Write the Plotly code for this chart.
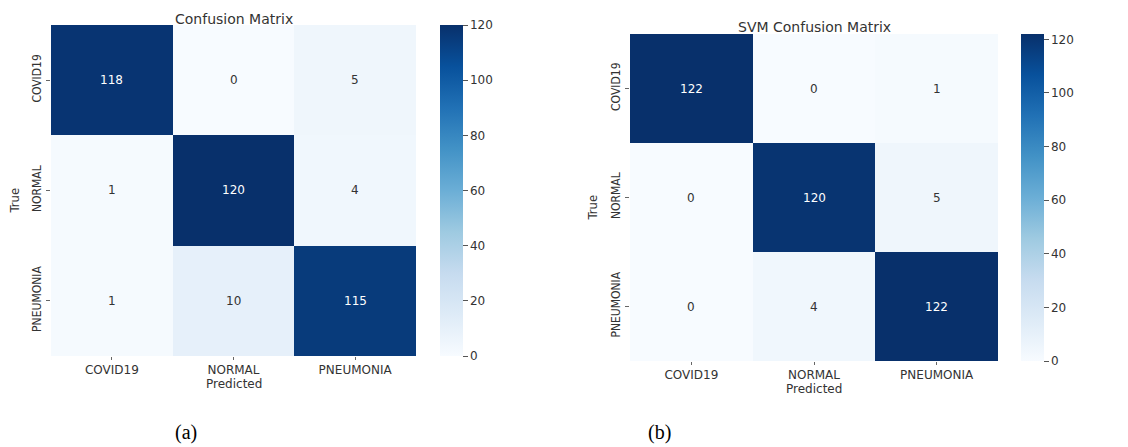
import plotly.graph_objects as go

classes = ["COVID19", "NORMAL", "PNEUMONIA"]
cm_a = [[118, 0, 5],
        [1, 120, 4],
        [1, 10, 115]]
cm_b = [[122, 0, 1],
        [0, 120, 5],
        [0, 4, 122]]
cbar_ticks = [0, 20, 40, 60, 80, 100, 120]
titles = ["Confusion Matrix", "SVM Confusion Matrix"]
captions = ["(a)", "(b)"]

# page body has an 8px default margin; figure is placed at (8, 8)
OFF = 8
W, H = 1128 - OFF, 447 - OFF
def px(x): return (x - OFF) / W
def py(y): return 1 - (y - OFF) / H

blues = [[0.0, "rgb(247,251,255)"], [0.125, "rgb(222,235,247)"], [0.25, "rgb(198,219,239)"],
         [0.375, "rgb(158,202,225)"], [0.5, "rgb(107,174,214)"], [0.625, "rgb(66,146,198)"],
         [0.75, "rgb(33,113,181)"], [0.875, "rgb(8,81,156)"], [1.0, "rgb(8,48,107)"]]

# panel geometry (screen pixels): heatmap left,right,top,bottom ; colorbar left
panels = [
    dict(l=51, r=416, t=25, b=356, cb=440, ylab=14, cap=186, tt=8.5),
    dict(l=630, r=998, t=34, b=361, cb=1021, ylab=592, cap=659, tt=17),
]

fig = go.Figure()
font_main = "DejaVu Sans"
narrow = "Liberation Sans Narrow, DejaVu Sans Condensed, DejaVu Sans"
annotations = []
for i, (cm, g) in enumerate(zip([cm_a, cm_b], panels)):
    xa = "x" if i == 0 else "x2"
    ya = "y" if i == 0 else "y2"
    zmax = max(max(r) for r in cm)
    fig.add_trace(go.Heatmap(
        z=cm, x=classes, y=classes, xaxis=xa, yaxis=ya,
        colorscale=blues, zmin=0, zmax=zmax,
        colorbar=dict(
            x=px(g["cb"]), xanchor="left", thickness=23, thicknessmode="pixels",
            len=g["b"] - g["t"], lenmode="pixels", y=py(g["b"]), yanchor="bottom",
            xpad=0, ypad=0, outlinewidth=0,
            tickvals=cbar_ticks, ticks="outside", ticklen=5, tickcolor="#555",
            tickfont=dict(family=font_main, size=12, color="#333"),
        ),
        hoverinfo="skip",
    ))
    thr = zmax / 2
    for r, row in enumerate(cm):
        for c, v in enumerate(row):
            annotations.append(dict(
                x=classes[c], y=classes[r], xref=xa, yref=ya, text=str(v), showarrow=False,
                font=dict(family=font_main, size=12, color="white" if v > thr else "#333"),
            ))
    axkey = "" if i == 0 else "2"
    fig.update_layout(**{
        "xaxis" + axkey: dict(domain=[px(g["l"]), px(g["r"])], anchor=ya, automargin=False,
                              showgrid=False, zeroline=False, ticks="outside", ticklen=3,
                              tickcolor="#666", tickfont=dict(family=font_main, size=12, color="#333")),
        "yaxis" + axkey: dict(domain=[py(g["b"]), py(g["t"])], anchor=xa, autorange="reversed",
                              automargin=False,
                              showgrid=False, zeroline=False, ticks="outside", ticklen=4,
                              tickcolor="#666", tickangle=-90,
                              tickfont=dict(family=narrow, size=12, color="#333")),
    })
    cx = (g["l"] + g["r"]) / 2
    annotations.append(dict(x=px(cx), y=py(g["tt"]), xref="paper", yref="paper",
                            xanchor="center", yanchor="top",
                            text=titles[i], showarrow=False,
                            font=dict(family=font_main, size=14, color="#333")))
    annotations.append(dict(x=px(cx), y=py(g["b"] + 19), xref="paper", yref="paper",
                            xanchor="center", yanchor="top",
                            text="Predicted", showarrow=False,
                            font=dict(family=font_main, size=12, color="#333")))
    annotations.append(dict(x=px(g["ylab"]), y=py((g["t"] + g["b"]) / 2 + 10), xref="paper", yref="paper",
                            xanchor="center", yanchor="middle",
                            text="True", showarrow=False, textangle=-90,
                            font=dict(family=narrow, size=13, color="#333")))
    annotations.append(dict(x=px(g["cap"]), y=py(432), xref="paper", yref="paper",
                            xanchor="center", yanchor="middle", text=captions[i],
                            showarrow=False, font=dict(family="Liberation Serif", size=20, color="black")))

fig.update_layout(width=W, height=H, margin=dict(l=0, r=0, t=0, b=0, autoexpand=False),
                  paper_bgcolor="white", plot_bgcolor="white",
                  annotations=annotations, showlegend=False)
fig.write_html("out.html")
